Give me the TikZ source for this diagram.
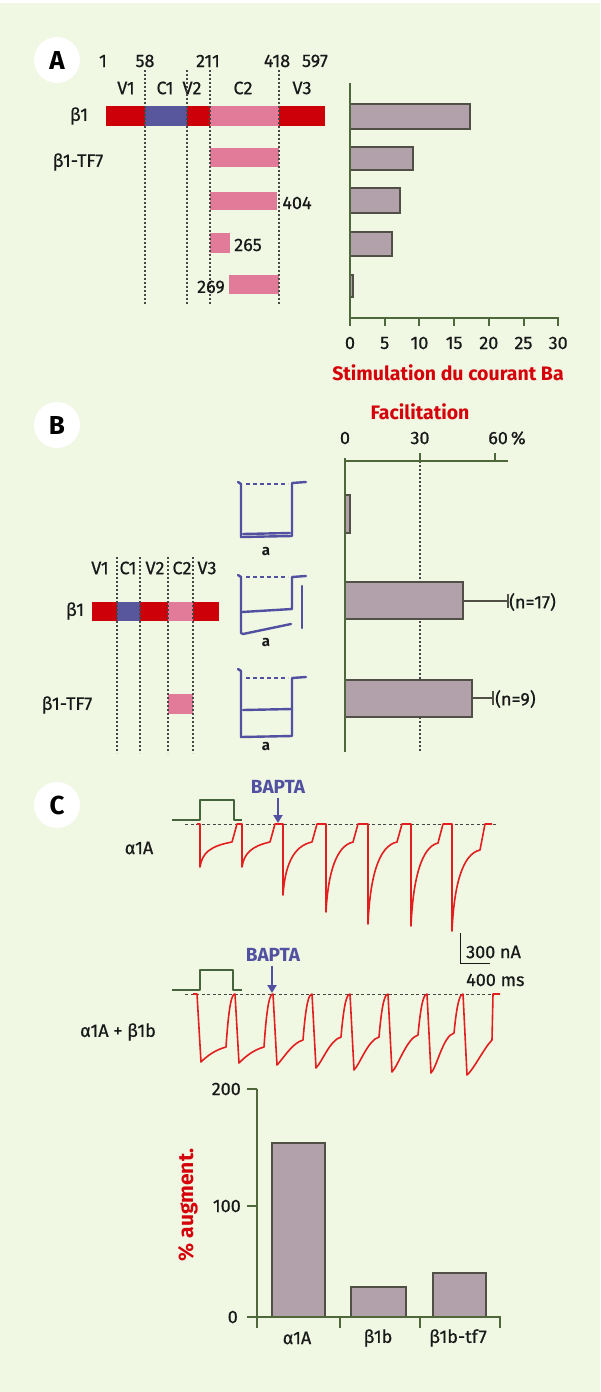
\documentclass[tikz,border=0pt]{standalone}
\usepackage{fontspec}
\setmainfont{Fira Sans}
\newfontfamily\lf{Fira Sans}[FakeBold=0.6]
\usetikzlibrary{arrows.meta}
\definecolor{bg}{RGB}{240,248,228}
\definecolor{txt}{RGB}{25,25,25}
\definecolor{redb}{RGB}{205,0,10}
\definecolor{blueb}{RGB}{88,86,156}
\definecolor{pinkb}{RGB}{226,122,154}
\definecolor{barc}{RGB}{178,160,170}
\definecolor{bardraw}{RGB}{80,80,70}
\definecolor{axc}{RGB}{78,104,60}
\definecolor{dotc}{RGB}{70,70,70}
\definecolor{redt}{RGB}{214,0,10}
\definecolor{trc}{RGB}{82,80,160}
\definecolor{rtrc}{RGB}{226,30,30}
\definecolor{grc}{RGB}{70,100,60}
\newcommand{\fsz}{\fontsize{18}{18}\selectfont}
\begin{document}
\begin{tikzpicture}[x=1pt,y=-1pt,
  lbl/.style={font=\lf\fsz, text=txt, inner sep=0pt},
  redlbl/.style={font=\fontsize{19.5}{19.5}\selectfont\bfseries, text=redt, inner sep=0pt},
  bluelbl/.style={font=\fontsize{19}{19}\selectfont\bfseries, text=trc, inner sep=0pt},
  smalla/.style={font=\fontsize{15}{15}\selectfont\bfseries, text=txt, inner sep=0pt},
  circ/.style={circle, fill=white, minimum size=46pt, inner sep=0pt, font=\fontsize{26}{26}\selectfont\bfseries, text=black},
  dl/.style={draw=dotc, line width=1.1pt, dash pattern=on 2pt off 2pt},
  ax/.style={draw=axc, line width=2.6pt},
  axt/.style={draw=axc, line width=2pt},
  hbar/.style={fill=barc, draw=bardraw, line width=1.2pt},
  btr/.style={draw=trc, line width=2.4pt, line join=round, line cap=round},
  bdash/.style={draw=trc, line width=2pt, dash pattern=on 4pt off 3pt},
  rtr/.style={draw=rtrc, line width=1.6pt, line join=round},
  gtr/.style={draw=grc, line width=1.6pt, line join=round},
  cdash/.style={draw=dotc, line width=1pt, dash pattern=on 3pt off 2.5pt}]
\useasboundingbox (0,0) rectangle (600,1392);
\fill[bg] (0,0) rectangle (600,1392);
\fill[white] (0,0) rectangle (600,3);

% ================= Panel A =================
\node[circ] (cA) at (57,60) {A};
\foreach \x/\t/\n in {103/1/n1, 145/58/n58, 208/211/n211, 277/418/n418, 315/597/n597}
  \node[lbl] (\n) at (\x,61) {\t};
\foreach \x/\t in {126/V1, 165/C1, 192/V2, 243/C2, 302/V3}
  \node[lbl] (dA\t) at (\x,88) {\t};
% beta1 full bar
\fill[redb] (106,106) rectangle (145,126);
\fill[blueb] (145,106) rectangle (187,126);
\fill[redb] (187,106) rectangle (210,126);
\fill[pinkb] (210,106) rectangle (279,126);
\fill[redb] (279,106) rectangle (325,126);
% truncated constructs
\fill[pinkb] (210,148) rectangle (279,167);
\fill[pinkb] (210,192) rectangle (277,210);
\fill[pinkb] (210,233) rectangle (230,253);
\fill[pinkb] (229,275) rectangle (279,294);
\foreach \x in {145,187,210,279}
  \draw[dl] (\x,70) -- (\x,305);
\node[lbl] (bA1) at (79,116) {β1};
\node[lbl] (bA2) at (78,162) {β1-TF7};
\node[lbl] (n404) at (297,203) {404};
\node[lbl] (n265) at (248,245) {265};
\node[lbl] (n269) at (211,287) {269};
% chart A
\draw[hbar] (350,104) rectangle (470,129);
\draw[hbar] (350,147) rectangle (413,170);
\draw[hbar] (350,188) rectangle (400,213);
\draw[hbar] (350,232) rectangle (392,256);
\draw[hbar] (350,275) rectangle (353,297);
\draw[ax] (350,83) -- (350,318) -- (559,318);
\foreach \v in {0,...,6} {
  \pgfmathtruncatemacro{\lab}{5*\v}
  \draw[axt] ({350+34.7*\v},318) -- ++(0,8);
  \node[lbl] (tA\v) at ({350+34.7*\v},343) {\lab};
}
\node[redlbl] (stimA) at (448,373) {Stimulation du courant Ba};

% ================= Panel B =================
\node[circ] (cB) at (57,425) {B};
\foreach \x/\t in {100/V1, 128/C1, 155/V2, 182/C2, 207/V3}
  \node[lbl] (dB\t) at (\x,568) {\t};
\fill[redb] (92,602) rectangle (117,621);
\fill[blueb] (117,602) rectangle (140,621);
\fill[redb] (140,602) rectangle (168,621);
\fill[pinkb] (168,602) rectangle (193,621);
\fill[redb] (193,602) rectangle (219,621);
\fill[pinkb] (168,694) rectangle (193,714);
\foreach \x in {117,140,168,193}
  \draw[dl] (\x,557) -- (\x,753);
\node[lbl] (bB1) at (75,611) {β1};
\node[lbl] (bB2) at (67,705) {β1-TF7};
% current traces
\draw[bdash] (246,484) -- (288,484);
\draw[btr] (238,482) -- (241,484) -- (241,537) -- (292,536) -- (292,483) -- (306,482);
\draw[btr] (243,534) -- (290,533);
\node[smalla] (aB1) at (266,552) {a};
\draw[bdash] (246,577) -- (288,577);
\draw[btr] (238,575) -- (241,577) -- (241,633) -- (243,634) -- (291,624);
\draw[btr] (242,612) -- (292,609) -- (292,577) -- (306,576);
\draw[btr] (302,586) -- (302,628);
\node[smalla] (aB2) at (266,643) {a};
\draw[bdash] (246,678) -- (288,678);
\draw[btr] (238,669) -- (241,671) -- (241,737) -- (292,736) -- (292,678) -- (306,677);
\draw[btr] (243,710) -- (292,709);
\node[smalla] (aB3) at (266,747) {a};
% chart B
\node[redlbl] (facil) at (420,412) {Facilitation};
\node[lbl] (tB0) at (345,438) {0};
\node[lbl] (tB30) at (420,438) {30};
\node[lbl] (tB60) at (507,438) {60\,\%};
\draw[dl] (420,461) -- (420,752);
\draw[hbar] (345,495) rectangle (350,533);
\draw[hbar] (345,582) rectangle (463,619);
\draw[hbar] (345,680) rectangle (472,717);
\draw[ax] (345,458) -- (345,752);
\draw[ax] (344,461) -- (508,461);
\draw[axt] (420,461) -- (420,453);
\draw[axt] (495,461) -- (495,453);
\draw[draw=bardraw, line width=1.2pt] (463,601) -- (508,601) (508,594) -- (508,608);
\draw[draw=bardraw, line width=1.2pt] (472,698) -- (493,698) (493,691) -- (493,705);
\node[lbl, anchor=west] (n17) at (509,602) {(n=17)};
\node[lbl, anchor=west] (n9) at (495,699) {(n=9)};

% ================= Panel C =================
\node[circ] (cC) at (57,805) {C};
% trace alpha1A
\draw[cdash] (185,824) -- (498,824);
\draw[gtr] (172,820) -- (200,820) -- (200,800) -- (234,800) -- (234,820) -- (242,820);
\node[bluelbl] (bap1) at (278,787) {BAPTA};
\coordinate (bap1e) at (278,823);
\draw[draw=trc, line width=2pt, -{Triangle[length=8pt,width=9pt]}] (bap1.south) ++(0,4) -- (bap1e);
\node[lbl] (al1) at (139,848) {α1A};
\draw[rtr] (197,824) -- (200,824)
  foreach \d/\e/\m/\L in {200/237/867/842, 242/275/867/842, 283/317/895/842, 326/358/912/842, 368/402/924/842, 411/443/926/843, 452/485/931/850} {
   -- (\d,824) -- (\d,\m) .. controls ({\d+2},{\L+0.45*(\m-\L)}) and ({\d+10},{\L+4}) .. ({\e-5},\L) -- (\e,824)
  } -- (492,824);
% scale bar
\draw[draw=txt, line width=1pt] (460,933) -- (460,963) -- (490,963);
\node[lbl, anchor=west] (sc1) at (466,952) {300 nA};
\node[lbl, anchor=west] (sc2) at (466,980) {400 ms};
% trace alpha1A + beta1b
\draw[cdash] (185,994) -- (500,994);
\draw[gtr] (172,990) -- (200,990) -- (200,970) -- (233,970) -- (233,990) -- (242,990);
\node[bluelbl] (bap2) at (273,955) {BAPTA};
\coordinate (bap2e) at (272,993);
\draw[draw=trc, line width=2pt, -{Triangle[length=8pt,width=9pt]}] (bap2.south) ++(-1,4) -- (bap2e);
\node[lbl] (al2) at (118,1032) {α1A + β1b};
\draw[rtr] (193,994) -- (197,994)
  foreach \t/\m/\L/\n in {197/1062/1047/235, 235/1063/1047/273, 273/1065/1040/312, 312/1068/1037/350, 350/1070/1037/388, 388/1072/1035/427, 427/1073/1033/463} {
   -- (\t,994) -- ({\t+4},\m) .. controls ({\t+10},{\m-6}) and ({\n-20},{\L+3}) .. ({\n-9},\L) .. controls ({\n-6},1002) and ({\n-3},994) .. (\n,994)
  } -- (467,1075) .. controls (474,1069) and (484,1048) .. (492,1040) -- (493,994) -- (500,994);

% chart C
\draw[hbar] (272,1317) rectangle (325,1143);
\draw[hbar] (351,1317) rectangle (406,1287);
\draw[hbar] (433,1317) rectangle (486,1273);
\draw[ax] (257,1089) -- (257,1328);
\draw[ax] (247,1317) -- (501,1317);
\draw[axt] (247,1089) -- (257,1089);
\draw[axt] (247,1206) -- (257,1206);
\foreach \x in {340,420,500} \draw[axt] (\x,1317) -- (\x,1328);
\node[lbl, anchor=east] (y200) at (241,1089) {200};
\node[lbl, anchor=east] (y100) at (241,1206) {100};
\node[lbl, anchor=east] (y0) at (238,1317) {0};
\node[lbl] (xC1) at (297,1338) {α1A};
\node[lbl] (xC2) at (378,1338) {β1b};
\node[lbl] (xC3) at (458,1338) {β1b-tf7};
\node[font=\fontsize{21}{21}\selectfont\bfseries, text=redt, inner sep=0pt, rotate=90] (augm) at (188,1205) {\% augment.};
\end{tikzpicture}
\end{document}
